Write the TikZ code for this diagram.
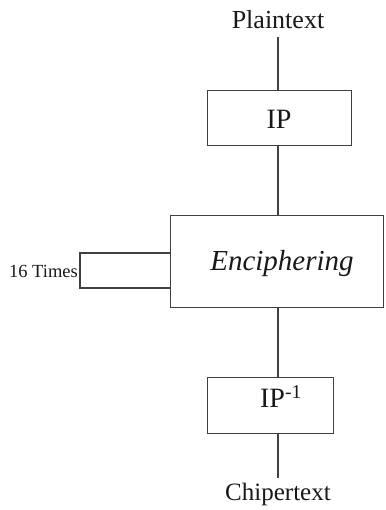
\documentclass[tikz,border=0pt]{standalone}
\usepackage{fontspec}
\setmainfont{Liberation Serif}
\begin{document}
\begin{tikzpicture}[x=1pt,y=-1pt,
  line/.style={draw=black!75,line width=1.3pt},
  block/.style={rectangle,line,inner sep=0pt,anchor=north west},
  txt/.style={inner sep=0pt,text=black!90}]
\useasboundingbox (0,0) rectangle (385,510);

% text ends
\node[txt,font=\fontsize{26}{28}\selectfont] (plain) at (278,20) {Plaintext};
\node[txt,font=\fontsize{25}{27}\selectfont] (chiper) at (278,494) {Chipertext};

% blocks
\node[block,minimum width=144pt,minimum height=55pt] (ip) at (207,90) {};
\node[txt,font=\fontsize{28}{30}\selectfont] (iptext) at (279,119) {IP};

\node[block,minimum width=213pt,minimum height=92pt] (enc) at (170,215) {};
\node[txt,font=\fontsize{29}{31}\selectfont\itshape] (enctext) at (282,264) {Enciphering};

\node[block,minimum width=126pt,minimum height=56pt] (ipinv) at (207,377) {};
\node[txt,font=\fontsize{28}{30}\selectfont] (ipinvtext) at (281,397) {IP\textsuperscript{-1}};

% loop box on the left of the enciphering block
\coordinate (lt) at (170,253);
\coordinate (lb) at (170,288);
\draw[line] (lt) -- (80,253) -- (80,288) -- (lb);
\node[txt,font=\fontsize{18.5}{20}\selectfont,anchor=east] (times) at (78,271) {16 Times};

% vertical connectors
\coordinate (axis) at (278,0);
\draw[line,shorten <=8pt] (plain.south) -- (plain.south |- ip.north);
\draw[line] (axis |- ip.south) -- (axis |- enc.north);
\draw[line] (axis |- enc.south) -- (axis |- ipinv.north);
\draw[line,shorten >=4pt] (axis |- ipinv.south) -- (chiper.north);
\end{tikzpicture}
\end{document}
